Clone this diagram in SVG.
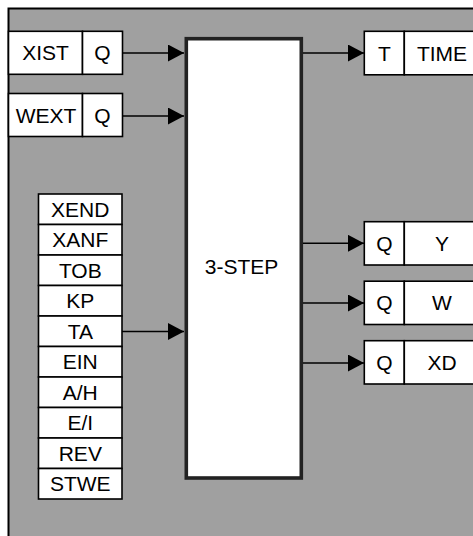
<svg xmlns="http://www.w3.org/2000/svg" width="473" height="536" viewBox="0 0 473 536">
<defs>
<style>
.cell{fill:#fff;stroke:#000;stroke-width:1.6}
.t{font-family:"Liberation Sans",Arial,sans-serif;font-size:21px;fill:#000;text-anchor:middle}
.con{stroke:#000;stroke-width:1.6;fill:none}
</style>
<marker id="ah" markerUnits="userSpaceOnUse" markerWidth="17" markerHeight="18" refX="16" refY="8.5" orient="auto">
<path d="M0,0 L16,8.5 L0,17 Z" fill="#000"/>
</marker>
</defs>
<rect x="0" y="0" width="473" height="536" fill="#fff"/>
<rect id="frame" x="8.5" y="8.5" width="480" height="540" fill="#a0a0a0" stroke="#000" stroke-width="2"/>

<g id="block">
<rect x="186.3" y="38.7" width="115" height="439.3" fill="#fff" stroke="#222" stroke-width="3.6"/>
<text class="t" x="241.5" y="273.5">3-STEP</text>
</g>

<g id="xist">
<rect class="cell" x="8.5" y="31.3" width="74" height="43"/>
<rect class="cell" x="82.5" y="31.3" width="40" height="43"/>
<text class="t" x="45.5" y="60.3">XIST</text>
<text class="t" x="102.5" y="60.3">Q</text>
</g>
<g id="wext">
<rect class="cell" x="8.5" y="93.5" width="74" height="43"/>
<rect class="cell" x="82.5" y="93.5" width="40" height="43"/>
<text class="t" x="46" y="122.8">WEXT</text>
<text class="t" x="102.5" y="122.8">Q</text>
</g>

<g id="time">
<rect class="cell" x="364.3" y="31.3" width="40" height="43.5"/>
<rect class="cell" x="404.3" y="31.3" width="76" height="43.5"/>
<text class="t" x="384.3" y="60.6">T</text>
<text class="t" x="442" y="60.6">TIME</text>
</g>
<g id="y">
<rect class="cell" x="364.3" y="221.7" width="40" height="43.3"/>
<rect class="cell" x="404.3" y="221.7" width="76" height="43.3"/>
<text class="t" x="384.3" y="250.9">Q</text>
<text class="t" x="442" y="250.9">Y</text>
</g>
<g id="w">
<rect class="cell" x="364.3" y="281.2" width="40" height="43.3"/>
<rect class="cell" x="404.3" y="281.2" width="76" height="43.3"/>
<text class="t" x="384.3" y="310.4">Q</text>
<text class="t" x="442" y="310.4">W</text>
</g>
<g id="xd">
<rect class="cell" x="364.3" y="340.7" width="40" height="43.3"/>
<rect class="cell" x="404.3" y="340.7" width="76" height="43.3"/>
<text class="t" x="384.3" y="369.9">Q</text>
<text class="t" x="442" y="369.9">XD</text>
</g>

<g id="params">
<rect class="cell" x="38.5" y="194" width="83.5" height="30.5"/>
<rect class="cell" x="38.5" y="224.5" width="83.5" height="30.5"/>
<rect class="cell" x="38.5" y="255" width="83.5" height="30.5"/>
<rect class="cell" x="38.5" y="285.5" width="83.5" height="30.5"/>
<rect class="cell" x="38.5" y="316" width="83.5" height="30.5"/>
<rect class="cell" x="38.5" y="346.5" width="83.5" height="30.5"/>
<rect class="cell" x="38.5" y="377" width="83.5" height="30.5"/>
<rect class="cell" x="38.5" y="407.5" width="83.5" height="30.5"/>
<rect class="cell" x="38.5" y="438" width="83.5" height="30.5"/>
<rect class="cell" x="38.5" y="468.5" width="83.5" height="30.5"/>
<text class="t" x="80.3" y="216.8">XEND</text>
<text class="t" x="80.3" y="247.3">XANF</text>
<text class="t" x="80.3" y="277.8">TOB</text>
<text class="t" x="80.3" y="308.3">KP</text>
<text class="t" x="80.3" y="338.8">TA</text>
<text class="t" x="80.3" y="369.3">EIN</text>
<text class="t" x="80.3" y="399.8">A/H</text>
<text class="t" x="80.3" y="430.3">E/I</text>
<text class="t" x="80.3" y="460.8">REV</text>
<text class="t" x="80.3" y="491.3">STWE</text>
</g>

<g id="connectors">
<line class="con" x1="122.5" y1="53" x2="184" y2="53" marker-end="url(#ah)"/>
<line class="con" x1="122.5" y1="116" x2="184" y2="116" marker-end="url(#ah)"/>
<line class="con" x1="122" y1="331.5" x2="184" y2="331.5" marker-end="url(#ah)"/>
<line class="con" x1="303" y1="53" x2="364" y2="53" marker-end="url(#ah)"/>
<line class="con" x1="303" y1="243.3" x2="364" y2="243.3" marker-end="url(#ah)"/>
<line class="con" x1="303" y1="303" x2="364" y2="303" marker-end="url(#ah)"/>
<line class="con" x1="303" y1="363" x2="364" y2="363" marker-end="url(#ah)"/>
</g>
</svg>
